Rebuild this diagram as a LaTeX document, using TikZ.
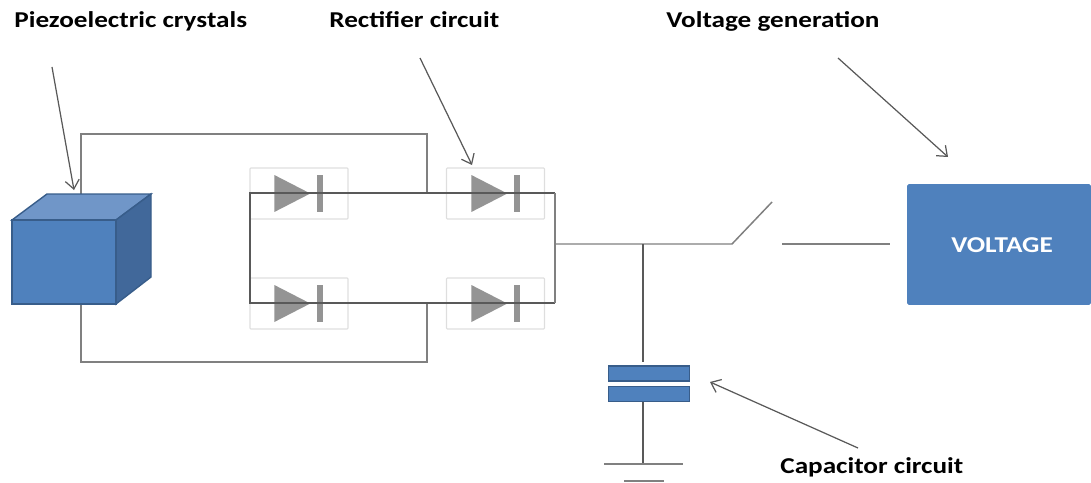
\documentclass[tikz,border=0pt]{standalone}
\usepackage{fontspec}
\setmainfont{Carlito}
\newfontfamily\labelfont[FakeStretch=1.2]{Carlito}
\usepackage{tikz}
\usetikzlibrary{arrows.meta,shapes.geometric}
\definecolor{boxblue}{HTML}{4F81BD}
\definecolor{edgeblue}{HTML}{385D8A}
\definecolor{topblue}{HTML}{7096C8}
\definecolor{sideblue}{HTML}{41689A}
\tikzset{
    title/.style={font=\labelfont\bfseries\fontsize{12.9pt}{15pt}\selectfont, text=black, inner sep=0pt},
    wire/.style={draw=black!50, line width=.85pt},
    thinwire/.style={draw=black!65, line width=.7pt},
    pointer/.style={draw=black!65, line width=.7pt, -{Straight Barb[length=5pt,width=8pt]}},
    diodebox/.style={draw=black!13, line width=.6pt, rounded corners=.5pt, minimum width=1.96cm, minimum height=1.02cm, inner sep=0pt},
    diodetip/.style={isosceles triangle, isosceles triangle stretches, fill=black!42, inner sep=0pt, minimum width=.74cm, minimum height=.72cm, anchor=west},
    diodebar/.style={fill=black!42, inner sep=0pt, minimum width=.12cm, minimum height=.74cm},
    plate/.style={draw=edgeblue, line width=.8pt, fill=boxblue, minimum width=1.62cm, minimum height=.3cm, inner sep=0pt}
}
\begin{document}
\begin{tikzpicture}[x=.02cm, y=-.02cm]

    \useasboundingbox (0,0) rectangle (1091,483);

    \node[title, anchor=base west] (piezolabel) at (14,28) {Piezoelectric crystals};
    \node[title, anchor=base west] (rectlabel) at (329,28) {Rectifier circuit};
    \node[title, anchor=base west] (voltlabel) at (666,28) {Voltage generation};
    \node[title, anchor=base west] (caplabel) at (780,473) {Capacitor circuit};

    \node[diodebox] (boxa) at (299,193.5) {};
    \node[diodebox] (boxb) at (495.5,193.5) {};
    \node[diodebox] (boxc) at (299,303.5) {};
    \node[diodebox] (boxd) at (495.5,303.5) {};
    \node[diodetip] (tipa) at (274,193.5) {}; \node[diodebar] (bara) at (320,193.5) {};
    \node[diodetip] (tipb) at (471,193.5) {}; \node[diodebar] (barb) at (517,193.5) {};
    \node[diodetip] (tipc) at (274,303.5) {}; \node[diodebar] (barc) at (320,303.5) {};
    \node[diodetip] (tipd) at (471,303.5) {}; \node[diodebar] (bard) at (517,303.5) {};

    \coordinate (nw) at (250,193);
    \coordinate (ne) at (555,193);
    \coordinate (se) at (555,303);
    \coordinate (sw) at (250,303);
    \coordinate (toptap) at (427,193);
    \coordinate (bottap) at (427,303);
    \coordinate (topleft) at (81,134);
    \coordinate (topright) at (427,134);
    \coordinate (botleft) at (81,362);
    \coordinate (botright) at (427,362);
    \coordinate (cubetop) at (81,194);
    \coordinate (cubebot) at (81,304);
    \coordinate (out) at (555,244);
    \coordinate (junction) at (643,244);
    \coordinate (hinge) at (732,244);
    \coordinate (blade) at (772,202);
    \coordinate (contact) at (782,244);
    \coordinate (volt) at (890,244);

    \draw[wire] (cubetop) -- (topleft) -- (topright) -- (toptap);
    \draw[wire] (cubebot) -- (botleft) -- (botright) -- (bottap);
    \draw[wire] (out) -- (hinge) -- (blade);
    \draw[wire] (contact) -- (volt);
    \draw[thinwire] (ne) -- (nw) -- (sw) -- (se);
    \draw[wire] (ne) -- (se);

    \fill[boxblue] (12,220) rectangle (116,304);
    \draw[edgeblue, line width=.8pt, fill=topblue] (12,220) -- (47,194) -- (151,194) -- (116,220) -- cycle;
    \draw[edgeblue, line width=.8pt, fill=sideblue] (116,220) -- (151,194) -- (151,277) -- (116,304) -- cycle;
    \draw[edgeblue, line width=.8pt] (12,220) rectangle (116,304);

    \node[fill=boxblue, rounded corners=1pt, minimum width=3.68cm, minimum height=2.42cm, inner sep=0pt] (voltage) at (999,244.5) {};
    \node[title, text=white] (voltagetext) at (1002,245) {VOLTAGE};

    \node[plate] (platea) at (649,373.5) {};
    \node[plate] (plateb) at (649,394) {};
    \coordinate (capin) at (643,362);
    \coordinate (capout) at (643,402);
    \coordinate (grounda) at (643,464);
    \coordinate (gl) at (604,464);
    \coordinate (gr) at (683,464);
    \coordinate (hl) at (624,481);
    \coordinate (hr) at (664,481);

    \draw[thinwire] (junction) -- (capin);
    \draw[thinwire] (capout) -- (grounda);
    \draw[wire] (gl) -- (gr);
    \draw[wire] (hl) -- (hr);

    \draw[pointer] (52,67) -- (74,190);
    \draw[pointer] (420,58) -- (472,165);
    \draw[pointer] (838,58) -- (948,157);
    \draw[pointer] (858,448) -- (710,382);

\end{tikzpicture}
\end{document}
